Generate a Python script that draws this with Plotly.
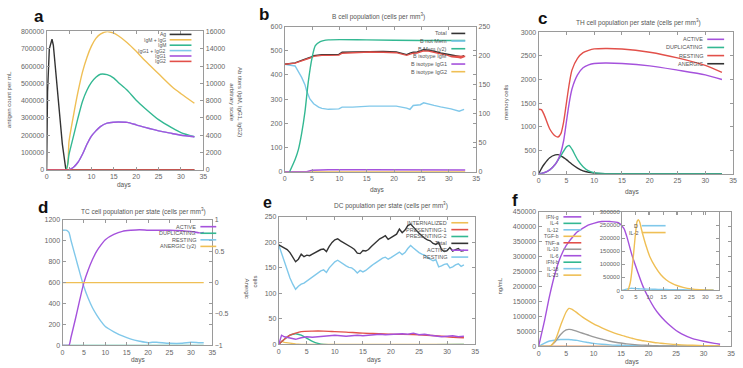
import plotly.graph_objects as go

W, H = 743, 368
def X(px): return px / W
def Y(py): return 1 - py / H

# ---------------- DATA ----------------
# Panel a: antigen & immunoglobulins
a_ag_day = [0, 0.2, 0.6, 1.2, 1.5, 2.5, 3.5, 4.3, 33]
a_ag = [0, 450000, 700000, 755000, 720000, 430000, 150000, 0, 0]
a_ig_day = [0, 4.3, 5, 6, 7, 8, 9, 10, 11, 12, 13.5, 15, 16, 18, 20, 22, 25, 28, 30, 33]
a_igm_igg = [0, 0, 3300, 6300, 9000, 11300, 13000, 14300, 15200, 15700, 16000, 15800, 15500, 14700, 13700, 12600, 11100, 9600, 8800, 7700]
a_igm = [0, 0, 1800, 3900, 6000, 7900, 9200, 10100, 10700, 11050, 11000, 10600, 10100, 9200, 8050, 7100, 5800, 4850, 4300, 3820]
a_igg12 = [0, 0, 0, 300, 870, 1800, 2950, 3900, 4500, 5000, 5400, 5500, 5520, 5480, 5200, 4900, 4500, 4200, 4000, 3820]
a_igg1 = [0, 0, 0, 300, 870, 1800, 2950, 3900, 4500, 5000, 5400, 5500, 5520, 5480, 5200, 4900, 4500, 4200, 4000, 3820]
a_igg2 = [0] * 20

# Panel b: B cell population
b_day = [0, 1.9, 3.1, 3.7, 4.0, 4.6, 5.3, 6.2, 6.8, 8.0, 9.9, 10.5, 12.4, 14.3, 15.5, 18.0, 20.4, 22.3, 22.9, 23.5, 24.2, 24.8, 25.4, 26.3, 26.6, 27.3, 28.5, 29.7, 30.4, 31.9, 32.2, 32.8]
b_total = [444, 450, 460, 464, 468, 472, 480, 483, 484, 484, 485, 494, 495, 498, 498, 497, 495, 484, 490, 494, 495, 498, 505, 503, 501, 498, 491, 486, 480, 476, 475, 480]
b_igm = [444, 449, 458, 462, 465, 470, 477, 480, 481, 481, 482, 490, 492, 494, 495, 494, 492, 481, 486, 490, 491, 495, 500, 499, 497, 494, 487, 482, 476, 472, 470, 476]
b_notmem = [444, 437, 390, 360, 335, 301, 281, 267, 262, 258, 260, 267, 267, 270, 271, 271, 271, 263, 258, 274, 275, 277, 285, 281, 279, 274, 268, 263, 260, 250, 252, 258]
b_mem_day = [0.9, 1.9, 2.5, 3.1, 3.7, 4.3, 5.0, 5.6, 6.5, 8.0, 15, 25, 33]
b_mem = [0, 21, 38, 66, 103, 154, 196, 217, 224, 227, 227, 226, 226]
b_iso_day = [0, 4, 5, 8, 15, 25, 33]
b_igg1 = [0, 0, 6, 8, 8, 8, 7]
b_igg2 = [0, 0, 0, 0, 0, 0, 0]

# Panel c: TH cells
c_day = [0, 0.5, 1, 2, 3, 3.5, 4, 4.5, 5, 5.5, 6, 7, 8, 9, 10, 12, 15, 20, 25, 30, 33]
c_active = [0, 5, 20, 80, 200, 300, 450, 700, 1100, 1500, 1800, 2100, 2250, 2310, 2340, 2350, 2340, 2290, 2200, 2100, 2000]
c_dup = [0, 5, 20, 80, 200, 290, 380, 480, 570, 600, 520, 300, 150, 60, 20, 0, 0, 0, 0, 0, 0]
c_resting = [1370, 1360, 1250, 950, 800, 780, 850, 1100, 1500, 1900, 2200, 2450, 2570, 2620, 2650, 2660, 2650, 2580, 2460, 2300, 2150]
c_anergic = [0, 110, 200, 340, 400, 405, 380, 340, 300, 250, 200, 120, 60, 30, 10, 0, 0, 0, 0, 0, 0]

# Panel d: TC cells
d_day = [0, 1, 1.5, 2, 3, 4, 5, 6, 7, 8, 9, 10, 12, 14, 16, 18, 20, 21, 22, 25, 28, 30, 32, 33]
d_active = [0, 0, 0, 80, 250, 430, 600, 720, 820, 900, 960, 1010, 1060, 1090, 1100, 1105, 1100, 1100, 1100, 1100, 1095, 1090, 1075, 1080]
d_resting = [1100, 1100, 1080, 1000, 850, 700, 560, 450, 360, 290, 230, 180, 130, 90, 60, 40, 25, 30, 30, 20, 20, 30, 25, 25]
d_dup = [0] * 24
d_anergic_day = [0, 33]
d_anergic = [0, 0]

# Panel e: DC population
e_day = [i * 0.5 for i in range(67)]
e_total = [195, 192, 189, 186, 180, 170, 162, 167, 177, 172, 175, 174, 177, 180, 183, 186, 187, 182, 192, 200,
           205, 207, 203, 200, 196, 193, 190, 186, 179, 178, 184, 183, 186, 192, 197, 203, 207, 210, 213, 206,
           209, 212, 216, 226, 219, 224, 233, 236, 229, 224, 218, 212, 208, 205, 203, 198, 196, 200, 186, 182,
           184, 190, 183, 186, 188, 183, 184]
e_resting = [195, 178, 160, 145, 130, 118, 108, 114, 118, 120, 124, 127, 131, 136, 140, 144, 146, 141, 150, 157,
             162, 165, 161, 157, 154, 151, 150, 146, 140, 145, 142, 145, 150, 154, 158, 162, 166, 169, 171, 167,
             170, 174, 178, 181, 176, 180, 188, 194, 189, 184, 180, 177, 175, 170, 167, 164, 166, 152, 154, 157,
             158, 150, 152, 156, 158, 153, 156]
e_act_day = [0, 0.5, 1, 2, 3, 4, 5, 6, 7, 8, 9, 10, 11, 12, 13, 14, 15, 16, 17, 18, 19, 20, 21, 22, 23, 24, 25, 26, 27, 28, 29, 30, 31, 32, 33]
e_active = [0, 18, 15, 12, 10, 13, 15, 14, 15, 16, 17, 18, 17, 16, 17, 18, 17, 18, 19, 20, 19, 20, 20, 21, 20, 22, 19, 20, 18, 17, 15, 16, 17, 15, 16]
e_p1_day = [0, 1, 2, 3, 4, 6, 8, 10, 12, 15, 18, 20, 25, 28, 30, 33]
e_pres1 = [0, 10, 18, 22, 25, 26, 26, 25, 24, 22, 21, 20, 19, 17, 15, 13]
e_p2_day = [0, 1, 2, 2.5, 3, 4, 5, 6, 7, 8, 33]
e_pres2 = [0, 10, 18, 20, 21, 18, 12, 6, 2, 0, 0]
e_int_day = [0, 0.5, 1, 2, 3, 4, 33]
e_intern = [0, 6, 4, 2, 1, 0, 0]

# Panel f: cytokines
f_day = [0, 1, 2, 3, 4, 5, 5.5, 6, 7, 8, 9, 10, 11.5, 13, 14.5, 15.5, 16, 17, 18, 19, 20, 21, 22, 23, 24, 25, 26, 28, 30, 32, 33]
f_ifng = [0, 80000, 170000, 245000, 300000, 337000, 350000, 362000, 383000, 395000, 406000, 412000, 418000, 418000, 414000, 395000, 370000, 304000, 250000, 200000, 162000, 130000, 105000, 85000, 68000, 53000, 42000, 26000, 17000, 10000, 7000]
f_tgfb = [0, 0, 0, 20000, 70000, 115000, 127000, 125000, 112000, 98000, 86000, 75000, 62000, 50000, 40000, 35000, 32000, 27000, 22000, 19000, 16000, 13000, 11000, 9000, 7500, 6000, 5000, 3500, 2500, 1800, 1500]
f_il10 = [0, 0, 0, 15000, 40000, 55000, 57000, 56000, 50000, 44000, 38000, 32000, 24000, 17000, 12000, 9500, 8500, 6500, 5000, 4000, 3000, 2400, 1800, 1400, 1100, 900, 700, 400, 200, 100, 0]
f_il12 = [0, 10000, 18000, 21000, 23000, 23000, 23000, 22000, 20000, 16000, 13000, 10000, 7000, 5000, 3800, 3200, 2800, 2300, 1900, 1600, 1300, 1100, 900, 700, 600, 500, 400, 300, 200, 100, 0]
f_zero = [0] * 31
f_in_day = [0, 2, 3, 4, 5, 5.5, 6, 6.5, 7, 8, 9, 10, 12, 14, 16, 18, 20, 22, 25, 28, 30, 33]
f_il2 = [0, 0, 30000, 120000, 230000, 265000, 270000, 258000, 235000, 195000, 160000, 130000, 90000, 60000, 40000, 27000, 18000, 12000, 6000, 3000, 2000, 1000]
f_d = [0, 6000, 8000, 8000, 7000, 7000, 6500, 6000, 6000, 5500, 5000, 5000, 4500, 4000, 3500, 3000, 3000, 2500, 2000, 2000, 2000, 2000]

# ---------------- STYLE ----------------
PUR = "#a552dc"; GRN = "#33b892"; LBL = "#80c8ea"; YEL = "#efbf55"; RED = "#e2504a"
BLK = "#333333"; GRY = "#9a9a9a"; LC = "#9a9a9a"
FONT = "Liberation Sans"
TF = dict(size=7, color="#666666", family=FONT)

fig = go.Figure()

def tr(x, y, color, xa, ya, name, shape="spline", w=1.4):
    fig.add_trace(go.Scatter(x=x, y=y, mode="lines", name=name, showlegend=False,
                             line=dict(color=color, width=w, shape=shape, smoothing=0.7),
                             xaxis=xa, yaxis=ya, hoverinfo="skip"))

def xax(px0, px1, anchor, tf=TF):
    return dict(domain=[X(px0), X(px1)], anchor=anchor, range=[0, 35], dtick=5, tick0=0,
                showline=True, linecolor=LC, linewidth=1, mirror="ticks", ticks="inside",
                ticklen=3, tickcolor=LC, tickfont=tf, showgrid=False, zeroline=False)

def yax(py0, py1, anchor, rng, dtick, mirror="ticks", tf=TF, fmt="d"):
    return dict(domain=[Y(py1), Y(py0)], anchor=anchor, range=rng, dtick=dtick,
                showline=True, linecolor=LC, linewidth=1, mirror=mirror, ticks="inside",
                ticklen=3, tickcolor=LC, tickfont=tf, showgrid=False, zeroline=False,
                tickformat=fmt)

def y2ax(over, anchor, rng, dtick, fmt="d"):
    return dict(overlaying=over, anchor=anchor, side="right", range=rng, dtick=dtick,
                showline=True, linecolor=LC, ticks="inside", ticklen=3, tickcolor=LC,
                tickfont=TF, showgrid=False, zeroline=False, tickformat=fmt)

layout = {}
# a
layout["xaxis"] = xax(45, 203, "y")
layout["yaxis"] = yax(28, 169, "x", [0, 800000], 100000)
layout["yaxis2"] = y2ax("y", "x", [0, 16000], 2000)
# b
layout["xaxis2"] = xax(285, 478, "y3")
layout["yaxis3"] = yax(23, 171, "x2", [0, 600], 100)
layout["yaxis4"] = y2ax("y3", "x2", [0, 250], 50)
# c
layout["xaxis3"] = xax(541, 737, "y5")
layout["yaxis5"] = yax(29, 173, "x3", [0, 3000], 500)
# d
layout["xaxis4"] = xax(61, 212, "y6")
layout["yaxis6"] = yax(220, 348, "x4", [0, 1200], 200)
layout["yaxis7"] = y2ax("y6", "x4", [-1, 1], 0.5, fmt="")
# e
layout["xaxis5"] = xax(279, 477, "y8")
layout["yaxis8"] = yax(217, 347, "x5", [0, 250], 50)
# f
layout["xaxis6"] = xax(541, 735, "y9")
layout["yaxis9"] = yax(212, 349, "x6", [0, 450000], 50000)
# f inset
TFs = dict(size=6, color="#666666", family=FONT)
layout["xaxis7"] = xax(625, 723, "y10", tf=TFs)
layout["yaxis10"] = yax(212, 292, "x7", [0, 300000], 50000, tf=TFs)

# traces a
tr(a_ag_day, a_ag, BLK, "x", "y", "Ag", shape="linear")
tr(a_ig_day, a_igm_igg, YEL, "x", "y2", "IgM + IgG")
tr(a_ig_day, a_igm, GRN, "x", "y2", "IgM")
tr(a_ig_day, a_igg12, LBL, "x", "y2", "IgG1 + IgG2")
tr(a_ig_day, a_igg1, PUR, "x", "y2", "IgG1")
tr(a_ig_day, a_igg2, RED, "x", "y2", "IgG2")
# traces b
tr(b_iso_day, b_igg2, YEL, "x2", "y3", "B isotype IgG2", shape="linear")
tr(b_iso_day, b_igg1, PUR, "x2", "y3", "B isotype IgG1", shape="linear")
tr(b_day, b_notmem, LBL, "x2", "y3", "B not Mem", shape="linear")
tr(b_mem_day, b_mem, GRN, "x2", "y4", "B Mem (y2)")
tr(b_day, b_total, BLK, "x2", "y3", "Total", shape="linear")
tr(b_day, b_igm, RED, "x2", "y3", "B isotype IgM", shape="linear")
# traces c
tr(c_day, c_anergic, BLK, "x3", "y5", "ANERGIC")
tr(c_day, c_dup, GRN, "x3", "y5", "DUPLICATING")
tr(c_day, c_active, PUR, "x3", "y5", "ACTIVE")
tr(c_day, c_resting, RED, "x3", "y5", "RESTING")
# traces d
tr(d_day, d_dup, GRN, "x4", "y6", "DUPLICATING", shape="linear")
tr(d_anergic_day, d_anergic, YEL, "x4", "y7", "ANERGIC (y2)", shape="linear")
tr(d_day, d_resting, LBL, "x4", "y6", "RESTING")
tr(d_day, d_active, PUR, "x4", "y6", "ACTIVE")
# traces e
tr(e_int_day, e_intern, YEL, "x5", "y8", "INTERNALIZED", shape="linear")
tr(e_p2_day, e_pres2, GRN, "x5", "y8", "PRESENTING-2")
tr(e_p1_day, e_pres1, RED, "x5", "y8", "PRESENTING-1")
tr(e_act_day, e_active, PUR, "x5", "y8", "ACTIVE", shape="linear")
tr(e_day, e_resting, LBL, "x5", "y8", "RESTING", shape="linear")
tr(e_day, e_total, BLK, "x5", "y8", "Total", shape="linear")
# traces f
tr(f_day, f_zero, RED, "x6", "y9", "TNF-a", shape="linear")
tr(f_day, f_zero, YEL, "x6", "y9", "IL-23", shape="linear")
tr(f_day, f_il12, LBL, "x6", "y9", "IL-12")
tr(f_day, f_il10, GRY, "x6", "y9", "IL-10")
tr(f_day, f_tgfb, YEL, "x6", "y9", "TGF-b")
tr(f_day, f_ifng, PUR, "x6", "y9", "IFN-g")
tr(f_in_day, f_d, LBL, "x7", "y10", "D")
tr(f_in_day, f_il2, YEL, "x7", "y10", "IL-2")

fig.update_layout(**layout)
fig.update_layout(width=W, height=H, margin=dict(l=0, r=0, t=0, b=0),
                  paper_bgcolor="white", plot_bgcolor="rgba(0,0,0,0)", showlegend=False,
                  font=dict(family=FONT))

def ann(px, py, text, size=7, color="#555555", angle=0, xanchor="center", bold=False):
    fig.add_annotation(x=X(px), y=Y(py), xref="paper", yref="paper", text=("<b>%s</b>" % text if bold else text),
                       showarrow=False, xanchor=xanchor, yanchor="middle", textangle=angle,
                       borderpad=0, font=dict(size=size, color=color, family=FONT))

def leg(items, xr, y0, dy, L, fs=5.5):
    for i, (name, color) in enumerate(items):
        yy = y0 + i * dy
        ann(xr, yy, name, size=fs, color="#555555", xanchor="right")
        fig.add_shape(type="line", xref="paper", yref="paper", x0=X(xr + 3), x1=X(xr + 3 + L),
                      y0=Y(yy), y1=Y(yy), line=dict(color=color, width=1.6))

# panel letters
ann(37, 13, "a", size=17, color="#111111", bold=True)
ann(264, 11, "b", size=17, color="#111111", bold=True)
ann(545, 15, "c", size=17, color="#111111", bold=True)
ann(41, 207, "d", size=17, color="#111111", bold=True)
ann(268, 202, "e", size=16, color="#111111", bold=True)
ann(517, 200, "f", size=17, color="#111111", bold=True)

# titles
ann(380, 13, "B cell population (cells per mm<sup>3</sup>)", size=6.5)
ann(642, 19, "TH cell population per state (cells per mm<sup>3</sup>)", size=6.5)
ann(143, 212, "TC cell population per state (cells per mm<sup>3</sup>)", size=6.5)
ann(392, 205, "DC population per state (cells per mm<sup>3</sup>)", size=6.5)

# axis labels
ann(123, 185, "days", size=6.5)
ann(378, 190, "days", size=6.5)
ann(635, 192, "days", size=6.5)
ann(137, 363, "days", size=6.5)
ann(375, 363, "days", size=6.5)
ann(635, 365, "days", size=6.5)
ann(7, 97, "antigen count per mL", size=6, angle=-90)
ann(236, 100, "Ab titers (IgM, IgG1, IgG2)<br>arbitrary scale", size=6, angle=90)
ann(508, 100, "memory cells", size=6, angle=-90)
ann(247, 290, "Anergic", size=6, angle=90)
ann(255, 283, "cells", size=6, angle=-90)
ann(502, 287, "ng/mL", size=6, angle=-90)

# legends (gnuplot style: text then sample)
leg([("Ag", BLK), ("IgM + IgG", YEL), ("IgM", GRN), ("IgG1 + IgG2", LBL), ("IgG1", PUR), ("IgG2", RED)],
    166, 31, 5.5, 22, fs=5)
leg([("Total", BLK), ("B not Mem", LBL), ("B Mem (y2)", GRN), ("B isotype IgM", RED),
     ("B isotype IgG1", PUR), ("B isotype IgG2", YEL)], 450, 30, 7.8, 14)
leg([("ACTIVE", PUR), ("DUPLICATING", GRN), ("RESTING", RED), ("ANERGIC", BLK)], 708, 36, 8.3, 17)
leg([("ACTIVE", PUR), ("DUPLICATING", GRN), ("RESTING", LBL), ("ANERGIC (y2)", YEL)], 197, 227, 6.7, 16)
leg([("INTERNALIZED", YEL), ("PRESENTING-1", RED), ("PRESENTING-2", GRN), ("Total", BLK),
     ("ACTIVE", PUR), ("RESTING", LBL)], 450, 223, 7, 17)
leg([("IFN-g", PUR), ("IL-4", GRN), ("IL-12", LBL), ("TGF-b", YEL), ("TNF-a", RED), ("IL-10", GRY),
     ("IL-6", PUR), ("IFN-b", GRN), ("IL-18", LBL), ("IL-23", YEL)], 563, 217, 6.6, 18, fs=5)
leg([("D", LBL), ("IL-2", YEL)], 642, 226, 7, 24, fs=5.5)

fig.write_html("out.html")
